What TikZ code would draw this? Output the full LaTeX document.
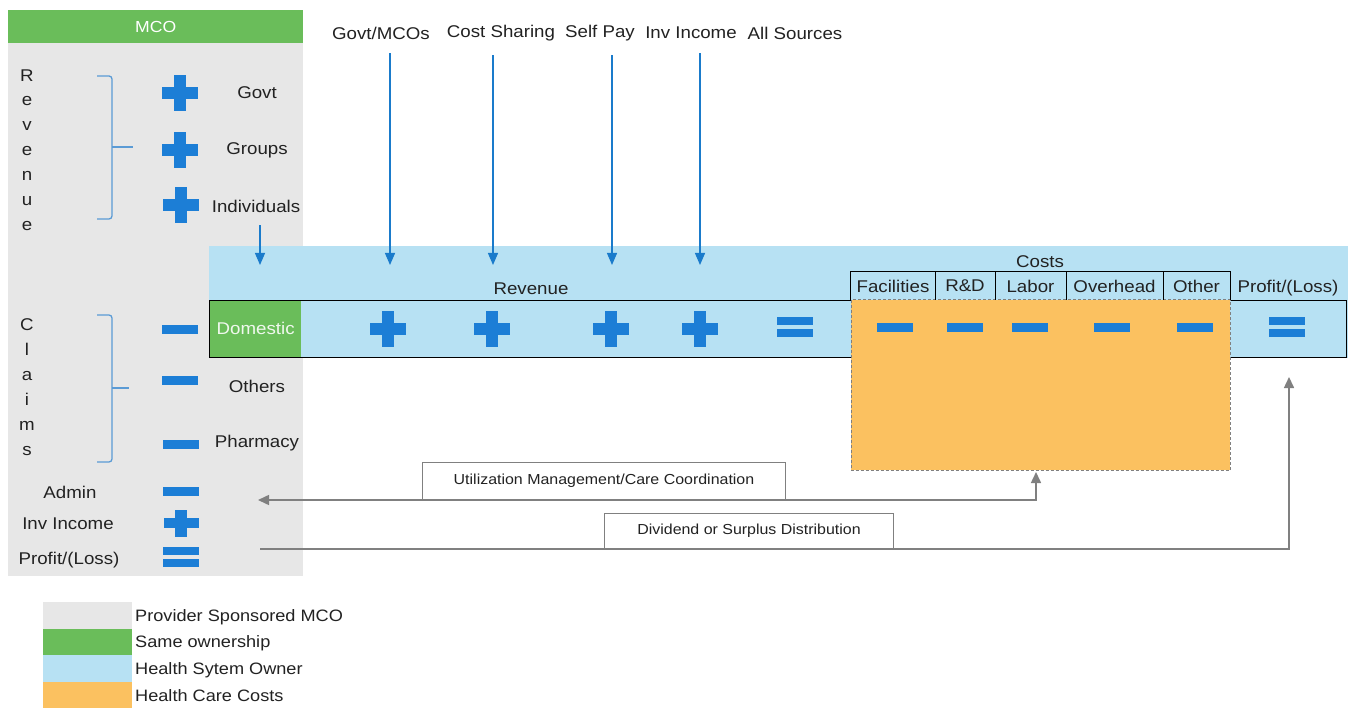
\documentclass[tikz,border=0pt]{standalone}
\usepackage{fontspec}
\setmainfont{Liberation Sans}[FakeStretch=1.1]
\usetikzlibrary{arrows.meta}
\definecolor{pgray}{HTML}{E7E7E7}
\definecolor{sgreen}{HTML}{6ABD5A}
\definecolor{hblue}{HTML}{B7E1F3}
\definecolor{orng}{HTML}{FBC160}
\definecolor{symblue}{HTML}{1C7ED6}
\definecolor{ablue}{HTML}{1A7BCB}
\definecolor{bblue}{HTML}{5B9BD5}
\definecolor{lgray}{HTML}{808080}
\definecolor{txt}{HTML}{222222}
\tikzset{
  plussym/.pic={\fill[symblue] (-18,-6) rectangle (18,6); \fill[symblue] (-6,-18) rectangle (6,18);},
  smallplus/.pic={\fill[symblue] (-17.5,-5) rectangle (17.5,5); \fill[symblue] (-6,-13.5) rectangle (6,13.5);},
  minussym/.pic={\fill[symblue] (-18,-4.5) rectangle (18,4.5);},
  equalsym/.pic={\fill[symblue] (-18,-10) rectangle (18,-2); \fill[symblue] (-18,2) rectangle (18,10);},
}
\begin{document}
\begin{tikzpicture}[x=1pt,y=-1pt,
  lbl/.style={font=\fontsize{17}{20}\selectfont, text=txt, inner sep=0pt},
  vlbl/.style={lbl, align=center, font=\fontsize{17}{24.9}\selectfont},
  hcell/.style={lbl, minimum height=28},
  boxlbl/.style={draw=lgray, line width=1pt, fill=white, font=\fontsize{14.5}{17}\selectfont, text=txt, anchor=south west, inner sep=0pt},
  barrow/.style={draw=ablue, line width=1.3pt, -{Triangle[width=10pt,length=12pt]}},
  garrow/.style={draw=lgray, line width=1.5pt},
  brk/.style={draw=bblue, line width=1.3pt, rounded corners=3pt},
  swatch/.style={minimum width=89, minimum height=26.5, anchor=north west, inner sep=0pt},
  leg/.style={font=\fontsize{16.5}{19}\selectfont, text=txt, inner sep=0pt, anchor=west},
]
\useasboundingbox (0,0) rectangle (1348,708);
\fill[white] (0,0) rectangle (1348,708);

% MCO panel
\fill[pgray] (8,10) rectangle (303,576);
\node[fill=sgreen, minimum width=295, minimum height=33, anchor=north west, inner sep=0pt,
      font=\fontsize{16}{19}\selectfont, text=white] (mco) at (8,10) {MCO};

\node[vlbl] (revv) at (27,150) {R\\e\\v\\e\\n\\u\\e};
\node[vlbl] (clmv) at (27,387) {C\\l\\a\\i\\m\\s};

\draw[brk] (97,76) -- (112,76) -- (112,219) -- (97,219);
\draw[brk] (112,147) -- (133,147);
\draw[brk] (97,315) -- (112,315) -- (112,462) -- (97,462);
\draw[brk] (112,388) -- (129,388);

\pic at (180,93) {plussym};
\pic at (180,150) {plussym};
\pic at (181,205) {plussym};
\pic at (180,329) {minussym};
\pic at (180,380) {minussym};
\pic at (181,444) {minussym};
\pic at (181,491) {minussym};
\pic at (181,523) {smallplus};
\pic at (181,557) {equalsym};

\node[lbl] (govt) at (257,93) {Govt};
\node[lbl] (grp) at (257,150) {Groups};
\node[lbl] (ind) at (256,206) {Individuals};
\node[lbl] (oth) at (257,386) {Others};
\node[lbl] (phm) at (257,443) {Pharmacy};
\node[lbl] (adm) at (70,492) {Admin};
\node[lbl] (inv) at (68,524) {Inv Income};
\node[lbl] (pl) at (69,560) {Profit/(Loss)};

% Health system band
\fill[hblue] (209,246) rectangle (1348,358);
\node[fill=sgreen, minimum width=91, minimum height=57, anchor=north west, inner sep=0pt,
      font=\fontsize{17}{20}\selectfont, text=white!90!sgreen] (dom) at (210,300) {Domestic};
\node[draw=black, line width=1.3pt, minimum width=1137, minimum height=57, anchor=north west, inner sep=0pt] (bar) at (209,300) {};

% costs area
\node[fill=orng, minimum width=379, minimum height=170, anchor=north west, inner sep=0pt] (hc) at (851,300) {};
\draw[lgray, line width=1pt, dash pattern=on 3pt off 2pt] (hc.north west) rectangle (hc.south east);

\node[lbl] (revl) at (531,289) {Revenue};
\node[lbl] (costs) at (1040,262) {Costs};
\node[hcell, minimum width=84] (fac) at (893,286) {Facilities};
\node[hcell, minimum width=60] (rd) at (965,286) {R\&D};
\node[hcell, minimum width=71] (lab) at (1030.5,286) {Labor};
\node[hcell, minimum width=97] (ovh) at (1114.5,286) {Overhead};
\node[hcell, minimum width=67] (oth2) at (1196.5,286) {Other};
\node[lbl] (plh) at (1288,288) {Profit/(Loss)};
\draw[line width=1.2pt] (fac.south west) -- (fac.north west) -- (oth2.north east) -- (oth2.south east);
\foreach \n in {fac,rd,lab,ovh} \draw[line width=1.2pt] (\n.north east) -- (\n.south east);

\pic at (388,329) {plussym};
\pic at (492,329) {plussym};
\pic at (611,329) {plussym};
\pic at (700,329) {plussym};
\pic at (795,327) {equalsym};
\pic at (895,327) {minussym};
\pic at (965,327) {minussym};
\pic at (1030,327) {minussym};
\pic at (1112,327) {minussym};
\pic at (1195,327) {minussym};
\pic at (1287,327) {equalsym};

% top labels and arrows
\node[lbl] (gm) at (381,33) {Govt/MCOs};
\node[lbl] (cs) at (501,33) {Cost Sharing};
\node[lbl] (sp) at (600,33) {Self Pay};
\node[lbl] (ii) at (691,33) {Inv Income};
\node[lbl] (as) at (795,33) {All Sources};

\coordinate (a0) at (260,265);
\coordinate (a1) at (390,265);
\coordinate (a2) at (493,265);
\coordinate (a3) at (612,265);
\coordinate (a4) at (700,265);
\draw[barrow] (ind.south -| a0) ++(0,13) -- (a0);
\draw[barrow] (gm.south -| a1) ++(0,14) -- (a1);
\draw[barrow] (cs.south -| a2) ++(0,14) -- (a2);
\draw[barrow] (sp.south -| a3) ++(0,14) -- (a3);
\draw[barrow] (ii.south -| a4) ++(0,14) -- (a4);

% gray connectors
\coordinate (umL) at (258,500);
\coordinate (umT) at (1036,472);
\coordinate (dvL) at (260,549);
\coordinate (dvT) at (1289,377);
\draw[garrow, {Triangle[width=10pt,length=11pt]}-{Triangle[width=10pt,length=11pt]}] (umL) -| (umT);
\draw[garrow, -{Triangle[width=10pt,length=11pt]}] (dvL) -| (dvT);
\node[boxlbl, minimum width=363, minimum height=37] (um) at (422,500) {Utilization Management/Care Coordination};
\node[boxlbl, minimum width=289, minimum height=35] (dv) at (604,549) {Dividend or Surplus Distribution};

% legend
\node[swatch, fill=pgray] (s1) at (43,602) {};
\node[swatch, fill=sgreen] (s2) at (43,628.5) {};
\node[swatch, fill=hblue] (s3) at (43,655) {};
\node[swatch, fill=orng] (s4) at (43,681.5) {};
\node[leg] (l1) at (135,617) {Provider Sponsored MCO};
\node[leg] (l2) at (135,643) {Same ownership};
\node[leg] (l3) at (135,670) {Health Sytem Owner};
\node[leg] (l4) at (135,696) {Health Care Costs};
\end{tikzpicture}
\end{document}
